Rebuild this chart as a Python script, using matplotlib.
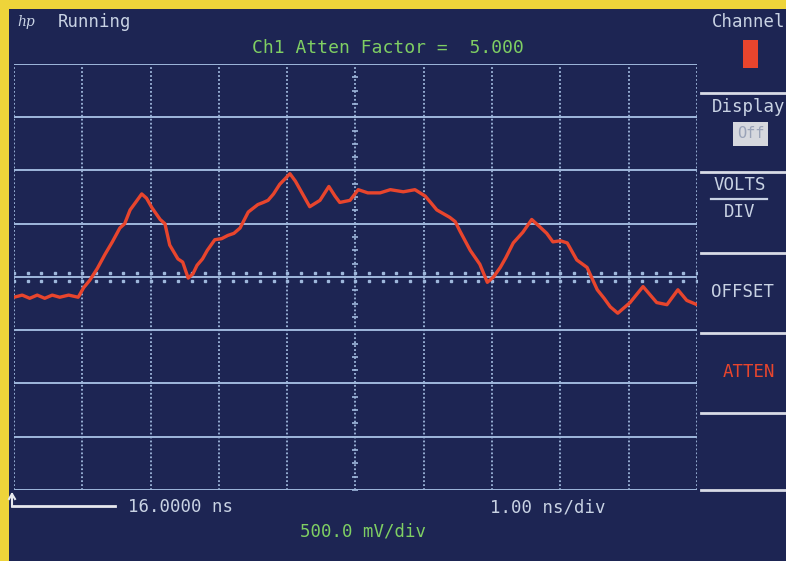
import numpy as np
import matplotlib
matplotlib.use("Agg")
import matplotlib.pyplot as plt
from matplotlib.lines import Line2D
from matplotlib.patches import Rectangle

# trace: time in ns (1.00 ns/div, 16 ns at centre), volts (500 mV/div)
t_ns = [11.00, 11.12, 11.23, 11.34, 11.45, 11.56, 11.67, 11.80, 11.94,
        12.02, 12.11, 12.22, 12.33, 12.44, 12.55, 12.62, 12.70, 12.78, 12.87,
        12.94, 13.02, 13.14, 13.21, 13.28, 13.40, 13.47, 13.55,
        13.62, 13.68, 13.76, 13.83, 13.94, 14.04, 14.13, 14.22, 14.31, 14.43,
        14.57, 14.65, 14.72, 14.80, 14.89, 15.04,
        15.12, 15.19, 15.33, 15.48, 15.61, 15.70, 15.77, 15.92, 16.04, 16.18,
        16.36, 16.51, 16.70, 16.87, 17.02, 17.10, 17.19, 17.38, 17.46, 17.53,
        17.68, 17.82, 17.93, 18.02, 18.12, 18.20, 18.31, 18.45, 18.58,
        18.70, 18.80, 18.89, 19.00, 19.10, 19.24, 19.39, 19.54, 19.64, 19.73,
        19.84, 20.02, 20.21, 20.41, 20.56, 20.72, 20.85, 21.00]
v_volts = [-0.19, -0.17, -0.20, -0.17, -0.20, -0.17, -0.19, -0.17, -0.19,
           -0.10, -0.03, 0.08, 0.21, 0.33, 0.46, 0.50, 0.63, 0.70, 0.78,
           0.74, 0.65, 0.54, 0.50, 0.30, 0.17, 0.14, -0.01,
           0.03, 0.11, 0.17, 0.25, 0.35, 0.36, 0.39, 0.41, 0.46, 0.61,
           0.68, 0.70, 0.72, 0.78, 0.87, 0.97,
           0.90, 0.82, 0.66, 0.72, 0.85, 0.76, 0.70, 0.72, 0.82, 0.79,
           0.79, 0.82, 0.80, 0.82, 0.76, 0.70, 0.63, 0.56, 0.52, 0.43,
           0.25, 0.12, -0.05, 0.00, 0.09, 0.18, 0.32, 0.42, 0.54,
           0.47, 0.41, 0.33, 0.34, 0.32, 0.16, 0.09, -0.12, -0.20, -0.28,
           -0.34, -0.24, -0.09, -0.24, -0.26, -0.12, -0.22, -0.26]

t_divs = np.arange(11, 22, 1)
v_divs = np.arange(-2.0, 2.01, 0.5)

yellow = "#eed43a"
navy = "#1d2553"
grid_c = "#9fb8dc"
txt_c = "#c9d3e4"
green = "#7fcf63"
red = "#e8452d"
W, H = 786, 561

def fx(x):
    return x / W

def fy(y):
    return 1 - y / H

fig = plt.figure(figsize=(7.86, 5.61), dpi=100, facecolor=yellow)
fig.add_artist(Rectangle((fx(9), 0), 1, fy(9), transform=fig.transFigure,
                         facecolor=navy, edgecolor="none", zorder=0))

ax = fig.add_axes([fx(14), fy(490), fx(697) - fx(14), fy(64) - fy(490)])
ax.set_facecolor(navy)
ax.set_xlim(11, 21)
ax.set_ylim(-2, 2)
for s in ax.spines.values():
    s.set_visible(False)
ax.set_xticks([])
ax.set_yticks([])

# graticule
for v in v_divs:
    ax.axhline(v, color=grid_c, lw=1.4, zorder=1)
for t in t_divs:
    ax.axvline(t, color=grid_c, lw=1.3, ls=(0, (1, 1.2)), zorder=1)
# minor ticks on centre axes
ax.plot(np.arange(11, 21.01, 0.2), np.zeros(51) + 0.035, ls="none", marker="s",
        ms=1.5, color=grid_c, zorder=1)
ax.plot(np.arange(11, 21.01, 0.2), np.zeros(51) - 0.035, ls="none", marker="s",
        ms=1.5, color=grid_c, zorder=1)
ax.plot(np.zeros(33) + 16, np.arange(-2, 2.01, 0.125), ls="none", marker="_",
        ms=5, mew=1.2, color=grid_c, zorder=1)

ax.plot(t_ns, v_volts, color=red, lw=2.4, solid_joinstyle="round", zorder=3)

mono = "DejaVu Sans Mono"
fig.text(fx(17), fy(22), "hp", color=txt_c, fontsize=10, family="DejaVu Serif",
         style="italic", va="center")
fig.text(fx(58), fy(22), "Running", color=txt_c, fontsize=12.5, family=mono, va="center")
fig.text(fx(252), fy(48), "Ch1 Atten Factor =  5.000", color=green, fontsize=13,
         family=mono, va="center")

# right softkey panel
for y in [93, 172, 253, 333, 413, 490]:
    fig.add_artist(Line2D([fx(701), 1], [fy(y), fy(y)], color="#d8dbe6", lw=2))
fig.text(fx(712), fy(22), "Channel", color=txt_c, fontsize=12.5, family=mono, va="center")
fig.add_artist(Rectangle((fx(743), fy(68)), fx(15), fy(40) - fy(68),
                         transform=fig.transFigure, facecolor=red, edgecolor="none"))
fig.text(fx(712), fy(107), "Display", color=txt_c, fontsize=12.5, family=mono, va="center")
fig.add_artist(Rectangle((fx(733), fy(146)), fx(35), fy(122) - fy(146),
                         transform=fig.transFigure, facecolor="#d6d8de", edgecolor="none"))
fig.text(fx(750.5), fy(134), "Off", color="#9aa3b8", fontsize=11, family=mono,
         va="center", ha="center")
fig.text(fx(740), fy(185), "VOLTS", color=txt_c, fontsize=12.5, family=mono,
         va="center", ha="center")
fig.add_artist(Line2D([fx(711), fx(767)], [fy(199), fy(199)], color=txt_c, lw=1.6))
fig.text(fx(740), fy(212), "DIV", color=txt_c, fontsize=12.5, family=mono,
         va="center", ha="center")
fig.text(fx(743), fy(292), "OFFSET", color=txt_c, fontsize=12.5, family=mono,
         va="center", ha="center")
fig.text(fx(749), fy(372), "ATTEN", color=red, fontsize=12.5, family=mono,
         va="center", ha="center")

# bottom annotations
fig.add_artist(Line2D([fx(12), fx(115)], [fy(506), fy(506)], color="#e6e8ee", lw=2))
fig.add_artist(Line2D([fx(12), fx(12)], [fy(506), fy(494)], color="#e6e8ee", lw=1.5))
fig.add_artist(Line2D([fx(9), fx(12), fx(15)], [fy(499), fy(494), fy(499)],
                      color="#e6e8ee", lw=1.5))
fig.text(fx(128), fy(507), "16.0000 ns", color=txt_c, fontsize=12.5, family=mono, va="center")
fig.text(fx(490), fy(507), "1.00 ns/div", color=txt_c, fontsize=12.5, family=mono, va="center")
fig.text(fx(300), fy(531), "500.0 mV/div", color=green, fontsize=12.5, family=mono, va="center")

fig.savefig("out.png", dpi=100, facecolor=yellow)
